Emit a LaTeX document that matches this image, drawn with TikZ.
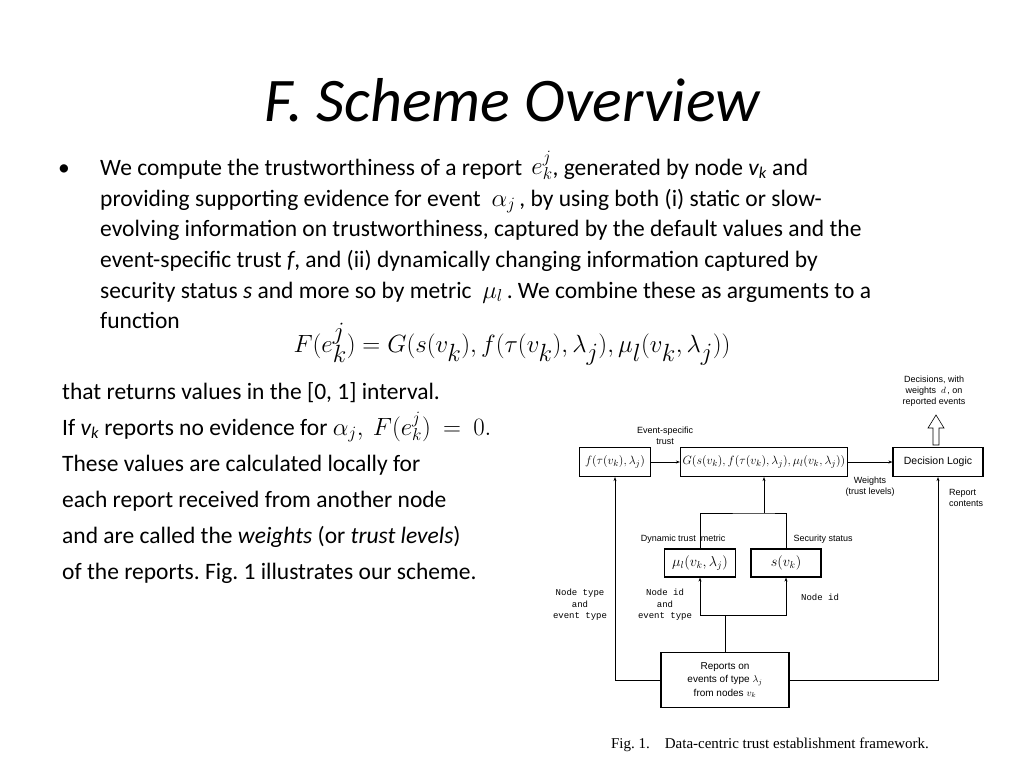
\documentclass[tikz,border=0pt]{standalone}
\usepackage{fontspec}
\setmainfont{Carlito}
\newfontfamily\diagfont{Liberation Sans}
\newfontfamily\capfont{Liberation Serif}
\setmonofont{Liberation Mono}
\usetikzlibrary{positioning,arrows.meta}
\frenchspacing
\tikzset{
  line/.style={draw, semithick},
  flow/.style={line, -{Stealth[length=4pt,width=3pt]}},
  fbox/.style={draw, very thick, inner sep=0pt, font=\fontsize{12.5}{14}\selectfont},
  lbl/.style={font=\diagfont\fontsize{9}{11}\selectfont, align=center, inner sep=1pt},
  mono/.style={font=\ttfamily\fontsize{9}{11.5}\selectfont, align=center, inner sep=1pt},
  body/.style={anchor=base west, font=\fontsize{23.5}{28}\selectfont, inner sep=0pt},
}
\begin{document}
\begin{tikzpicture}[x=1pt,y=1pt,yscale=-1]
\useasboundingbox (0,0) rectangle (1024,768);

% slide text
\node[font=\fontsize{62}{70}\selectfont\itshape] (title) at (512,100) {F. Scheme Overview};
\node[body] (dot) at (58,175) {\textbullet};
\node[body] (t1) at (100,175) {We compute the trustworthiness of a report \,\raisebox{1pt}{$e_k^j$}, generated by node \textit{v\textsubscript{k}} and};
\node[body] (t2) at (100,206) {providing supporting evidence for event \ $\alpha_j$\,, by using both (i) static or slow-};
\node[body] (t3) at (100,236) {evolving information on trustworthiness, captured by the default values and the};
\node[body] (t4) at (100,267) {event-specific trust \textit{f}, and (ii) dynamically changing information captured by};
\node[body] (t5) at (100,298) {security status \textit{s} and more so by metric \ $\mu_l$\,. We combine these as arguments to a};
\node[body] (t6) at (100,328) {function};
\node[font=\fontsize{35}{38}\selectfont] (eq) at (512,344) {$F(e_k^j) = G(s(v_k), f(\tau(v_k),\lambda_j), \mu_l(v_k,\lambda_j))$};
\node[body] (s1) at (62,399) {that returns values in the [0, 1] interval.};
\node[body] (s2) at (62,435) {If \textit{v\textsubscript{k}} reports no evidence for $\alpha_j,\ F(e_k^j)\ =\ 0.$};
\node[body] (s3) at (62,471) {These values are calculated locally for};
\node[body] (s4) at (62,507) {each report received from another node};
\node[body] (s5) at (62,543) {and are called the \textit{weights} (or \textit{trust levels})};
\node[body] (s6) at (62,579) {of the reports. Fig. 1 illustrates our scheme.};

% diagram
\node[fbox, minimum width=71pt, minimum height=29pt] (fbx) at (615,462) {$f(\tau(v_k),\lambda_j)$};
\node[fbox, minimum width=167pt, minimum height=29pt] (gbx) at (764,462) {$G(s(v_k),f(\tau(v_k),\lambda_j),\mu_l(v_k,\lambda_j))$};
\node[fbox, minimum width=90pt, minimum height=29pt, font=\diagfont\fontsize{10.5}{12}\selectfont] (dec) at (938,462) {Decision Logic};
\node[fbox, minimum width=71pt, minimum height=28pt, font=\fontsize{14}{16}\selectfont] (mu) at (700,563) {$\mu_l(v_k,\lambda_j)$};
\node[fbox, minimum width=70pt, minimum height=28pt, font=\fontsize{14}{16}\selectfont] (sv) at (786,563) {$s(v_k)$};
\node[fbox, minimum width=128pt, minimum height=55pt, align=center, font=\diagfont\fontsize{10}{13.5}\selectfont] (rep) at (725,680) {Reports on\\ events of type $\lambda_j$\\ from nodes $v_k$};
\coordinate (jtop) at (764,513);
\coordinate (jbot) at (725,615);

\draw[flow] (fbx) -- (gbx);
\draw[flow] (gbx) -- (dec);
\draw[flow] (jtop) -- (gbx.south);
\draw[line] (mu.north) |- (jtop) -| (sv.north);
\draw[line] (rep.north) -- (jbot);
\draw[flow] (jbot) -| (mu.south);
\draw[flow] (jbot) -| (sv.south);
\draw[flow] (rep.west) -| (fbx.south);
\draw[flow] (rep.east) -| (dec.south);
\draw[semithick] (933,445) -- (933,428) -- (928,428) -- (936,415) -- (944,428) -- (939,428) -- (939,445) -- cycle;

\node[lbl] (decis) at (934,391) {Decisions, with\\ weights \ $d$\,, on\\ reported events};
\node[lbl] (evt) at (665,436) {Event-specific\\ trust};
\node[lbl] (wts) at (870,487) {Weights\\ (trust levels)};
\node[lbl, align=left] (rcon) at (966,498) {Report\\ contents};
\node[lbl] (dyn) at (683,539) {Dynamic trust\ \ metric};
\node[lbl] (sec) at (823,539) {Security status};
\node[mono] (ntype) at (580,605) {Node type\\ and\\ event type};
\node[mono] (nide) at (665,605) {Node id\\ and\\ event type};
\node[mono] (nid) at (820,597) {Node id};
\node[font=\capfont\fontsize{15}{17}\selectfont] (cap) at (770,745) {Fig. 1.\quad Data-centric trust establishment framework.};
\end{tikzpicture}
\end{document}
